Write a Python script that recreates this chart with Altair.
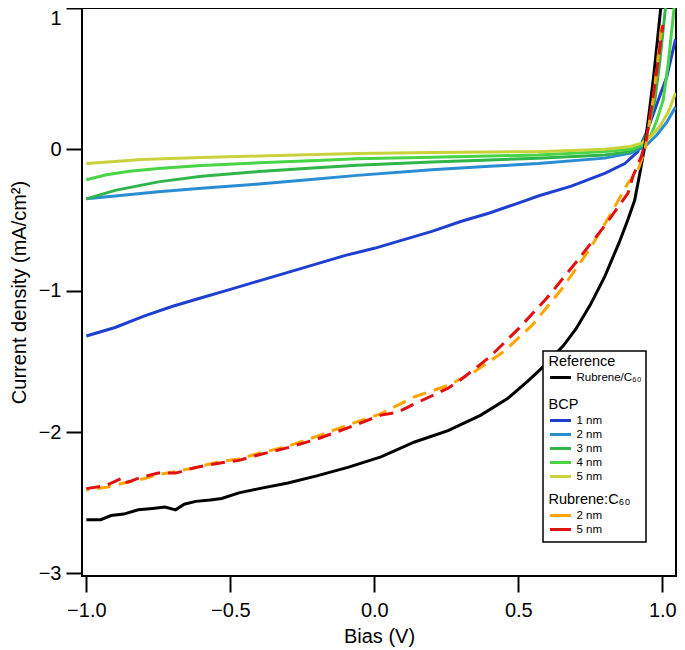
import altair as alt
import pandas as pd

FONT = "Liberation Sans"

# ---------------- data ----------------
ref_bias = [-1.0, -0.95, -0.914, -0.87, -0.82, -0.77, -0.727, -0.69, -0.66, -0.62, -0.57, -0.53,
            -0.47, -0.4, -0.3, -0.2, -0.092, 0.023, 0.14, 0.256, 0.37, 0.464, 0.533, 0.575, 0.656,
            0.70, 0.75, 0.80, 0.85, 0.88, 0.904, 0.92, 0.939, 0.955, 0.97, 0.983, 0.994, 1.0]
ref_j = [-2.62, -2.62, -2.59, -2.58, -2.55, -2.54, -2.53, -2.55, -2.51, -2.49, -2.48, -2.47,
         -2.43, -2.40, -2.36, -2.31, -2.25, -2.175, -2.07, -1.99, -1.88, -1.76, -1.64, -1.56, -1.39,
         -1.27, -1.10, -0.90, -0.66, -0.50, -0.36, -0.19, 0.02, 0.27, 0.52, 0.77, 0.99, 1.1]

b1_bias = [-1.0, -0.9, -0.8, -0.7, -0.6, -0.5, -0.4, -0.3, -0.2, -0.1, 0.0, 0.1, 0.2, 0.3, 0.4,
           0.5, 0.569, 0.684, 0.80, 0.87, 0.915, 0.945, 0.974, 0.995, 1.015, 1.046]
b1_j = [-1.32, -1.26, -1.18, -1.11, -1.05, -0.99, -0.93, -0.87, -0.81, -0.75, -0.70, -0.64, -0.58,
        -0.51, -0.45, -0.38, -0.33, -0.26, -0.17, -0.10, -0.016, 0.12, 0.28, 0.40, 0.51, 0.78]

b2_bias = [-1.0, -0.9, -0.75, -0.6, -0.4, -0.2, -0.06, 0.2, 0.4, 0.569, 0.8, 0.89, 0.94, 0.98,
           1.015, 1.046]
b2_j = [-0.35, -0.33, -0.30, -0.275, -0.245, -0.21, -0.184, -0.145, -0.12, -0.10, -0.062, -0.027,
        0.02, 0.1, 0.19, 0.30]

b3_bias = [-1.0, -0.95, -0.9, -0.75, -0.6, -0.4, -0.2, -0.06, 0.2, 0.4, 0.569, 0.8, 0.89, 0.93,
           0.95, 0.974, 0.99, 1.012]
b3_j = [-0.35, -0.32, -0.29, -0.23, -0.19, -0.157, -0.13, -0.113, -0.09, -0.075, -0.062, -0.04,
        -0.016, 0.03, 0.14, 0.35, 0.6, 1.02]

b4_bias = [-1.0, -0.93, -0.85, -0.75, -0.6, -0.4, -0.2, -0.06, 0.2, 0.4, 0.569, 0.8, 0.89, 0.93,
           0.96, 0.98, 1.003, 1.02, 1.042]
b4_j = [-0.215, -0.18, -0.155, -0.135, -0.115, -0.095, -0.078, -0.066, -0.055, -0.047, -0.04,
        -0.016, 0.0, 0.03, 0.10, 0.20, 0.35, 0.6, 1.02]

b5_bias = [-1.0, -0.9, -0.81, -0.6, -0.4, -0.2, -0.06, 0.2, 0.4, 0.569, 0.8, 0.89, 0.93, 0.96,
           0.99, 1.02, 1.046]
b5_j = [-0.10, -0.085, -0.072, -0.058, -0.047, -0.037, -0.03, -0.022, -0.018, -0.016, 0.0, 0.02,
        0.045, 0.09, 0.16, 0.26, 0.40]

rc2_bias = [-1.0, -0.93, -0.87, -0.8, -0.75, -0.69, -0.62, -0.54, -0.47, -0.4, -0.3, -0.2,
            -0.092, 0.023, 0.14, 0.256, 0.35, 0.45, 0.55, 0.65, 0.75, 0.82, 0.88, 0.916, 0.94,
            0.97, 1.0]
rc2_j = [-2.41, -2.39, -2.36, -2.33, -2.30, -2.28, -2.25, -2.21, -2.19, -2.15, -2.10, -2.03,
         -1.95, -1.87, -1.75, -1.67, -1.57, -1.43, -1.24, -0.99, -0.70, -0.46, -0.24, -0.145, 0.0,
         0.38, 0.92]

rc5_bias = [-1.0, -0.935, -0.87, -0.86, -0.85, -0.81, -0.75, -0.69, -0.62, -0.54, -0.47, -0.4,
            -0.3, -0.2, -0.092, 0.023, 0.08, 0.14, 0.256, 0.30, 0.4, 0.5, 0.6, 0.7, 0.8, 0.881,
            0.898, 0.927, 0.944, 0.97, 1.002]
rc5_j = [-2.40, -2.38, -2.32, -2.355, -2.35, -2.32, -2.29, -2.29, -2.25, -2.22, -2.20, -2.16,
         -2.11, -2.05, -1.97, -1.88, -1.86, -1.80, -1.69, -1.63, -1.47, -1.27, -1.05, -0.80, -0.54,
         -0.31, -0.19, -0.05, 0.067, 0.40, 0.88]

ref_names = ["Rubrene/C\u2086\u2080"]
ref_colors = ["#000000"]
bcp_names = ["1 nm", "2 nm", "3 nm", "4 nm", "5 nm"]
bcp_colors = ["#1f3fcf", "#2a8cd2", "#2fb548", "#48d444", "#c9d23a"]
rc_names = ["2 nm", "5 nm"]
rc_colors = ["#ffa500", "#e01010"]

x_ticks = [-1.0, -0.5, 0.0, 0.5, 1.0]
y_ticks = [1, 0, -1, -2, -3]


def frame(b, j, name):
    return pd.DataFrame({"bias": b, "j": j, "series": name, "idx": list(range(len(b)))})


df_ref = frame(ref_bias, ref_j, ref_names[0])
df_bcp = pd.concat([frame(b, j, n) for b, j, n in zip(
    [b1_bias, b2_bias, b3_bias, b4_bias, b5_bias],
    [b1_j, b2_j, b3_j, b4_j, b5_j], bcp_names)], ignore_index=True)
df_rc2 = frame(rc2_bias, rc2_j, rc_names[0])
df_rc5 = frame(rc5_bias, rc5_j, rc_names[1])

x_enc = alt.X("bias:Q", scale=alt.Scale(domain=[-1.015, 1.0475], nice=False, zero=False),
              axis=alt.Axis(values=x_ticks, format=".1f", title="Bias (V)"))
y_enc = alt.Y("j:Q", scale=alt.Scale(domain=[-3.018, 1.0], nice=False, zero=False),
              axis=alt.Axis(values=y_ticks, format="d", title="Current density (mA/cm\u00b2)",
                            labelBaseline=alt.ExprRef(expr="datum.value == 1 ? 'top' : 'middle'")))

LEG_X = 466.5
# a long, flat line symbol (21 px at size 144) so the rows can stay compact
LINE_SYMBOL = "M-1,0H2.5"


def leg(title, ly):
    return alt.Legend(title=title, orient="none", legendX=LEG_X, legendY=ly, padding=0,
                      symbolType=LINE_SYMBOL, symbolStrokeWidth=3, symbolSize=144,
                      symbolDash=[1, 0], symbolFillColor="transparent",
                      labelFont=FONT, labelFontSize=11.5, labelColor="black", labelOffset=13,
                      titleFont=FONT, titleFontSize=14.5, titleFontWeight="normal",
                      titleColor="black", titlePadding=0.5, rowPadding=0)


bcp = alt.Chart(df_bcp).mark_line(strokeWidth=3, clip=True).encode(
    x=x_enc, y=y_enc, order="idx:Q",
    color=alt.Color("series:N", scale=alt.Scale(domain=bcp_names, range=bcp_colors),
                    legend=leg("BCP", 390)))

ref = alt.Chart(df_ref).mark_line(strokeWidth=3, clip=True).encode(
    x=x_enc, y=y_enc, order="idx:Q",
    color=alt.Color("series:N", scale=alt.Scale(domain=ref_names, range=ref_colors),
                    legend=leg("Reference", 347)))

rc_scale = alt.Scale(domain=rc_names, range=rc_colors)
rc2 = alt.Chart(df_rc2).mark_line(strokeWidth=3, clip=True, strokeDash=[14, 8],
                                  strokeDashOffset=11).encode(
    x=x_enc, y=y_enc, order="idx:Q",
    color=alt.Color("series:N", scale=rc_scale, legend=leg("Rubrene:C\u2086\u2080", 485)))
rc5 = alt.Chart(df_rc5).mark_line(strokeWidth=3, clip=True, strokeDash=[14, 8]).encode(
    x=x_enc, y=y_enc, order="idx:Q",
    color=alt.Color("series:N", scale=rc_scale, legend=leg("Rubrene:C\u2086\u2080", 485)))

box = alt.Chart(pd.DataFrame({"k": [0]})).mark_rect(
    fill="white", stroke="black", strokeWidth=1.5).encode(
    x=alt.value(461), x2=alt.value(564), y=alt.value(343), y2=alt.value(534))

chart = alt.layer(bcp, ref, alt.layer(rc2, rc5), box).resolve_scale(
    color="independent"
).properties(
    width=594, height=568,
    autosize=alt.AutoSizeParams(type="none"),
    padding={"left": 74, "top": 0, "right": 1, "bottom": 74},
).configure_view(
    stroke="black", strokeWidth=2
).configure_axis(
    domain=False, grid=False, tickColor="black", tickWidth=2, tickSize=16,
    labelFont=FONT, labelFontSize=20, labelColor="black",
    titleFont=FONT, titleFontSize=20, titleFontWeight="normal", titleColor="black",
).configure_axisX(
    labelPadding=8, titlePadding=6
).configure_axisY(
    labelPadding=5, titlePadding=9
)

chart.save("out.html", embed_options={"renderer": "svg", "actions": False})
